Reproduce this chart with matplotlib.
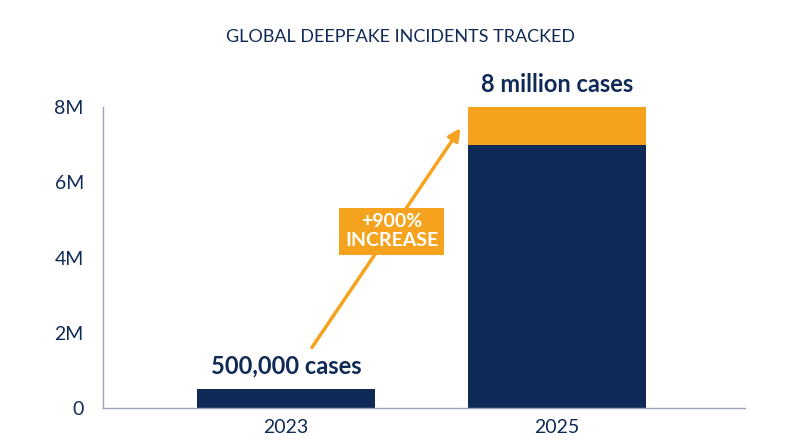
import matplotlib
matplotlib.use("Agg")
import matplotlib.pyplot as plt

years = ["2023", "2025"]
base_vals = [0.5e6, 7.0e6]
top_vals = [0.0, 1.0e6]
bar_labels = ["500,000 cases", "8 million cases"]
yticks = [0, 2e6, 4e6, 6e6, 8e6]
ytick_labels = ["0", "2M", "4M", "6M", "8M"]

navy = "#0f2a56"
orange = "#f5a31e"
plt.rcParams['font.family'] = ['Lato', 'DejaVu Sans']

fig = plt.figure(figsize=(8, 4.47), dpi=100)
ax = fig.add_axes([0.129, 0.0872, 0.802, 0.6734])
x = [0, 1]
ax.bar(x, base_vals, width=0.657, color=navy)
ax.bar(x, top_vals, width=0.657, bottom=base_vals, color=orange)
ax.set_xlim(-0.675, 1.694)
ax.set_ylim(0, 8e6)
ax.set_xticks(x)
ax.set_xticklabels(years)
ax.set_yticks(yticks)
ax.set_yticklabels(ytick_labels)
ax.tick_params(axis='both', length=0, labelsize=14, colors=navy, pad=8)
ax.tick_params(axis='y', pad=14)
for s in ['top', 'right']:
    ax.spines[s].set_visible(False)
for s in ['left', 'bottom']:
    ax.spines[s].set_color("#9aa3b5")
    ax.spines[s].set_linewidth(1)

totals = [b + t for b, t in zip(base_vals, top_vals)]
for xi, tot, lab in zip(x, totals, bar_labels):
    ax.text(xi, tot + 0.3e6, lab, ha='center', va='bottom', fontsize=17,
            fontweight='bold', color=navy)

ax.annotate("", xy=(0.65, 7.5e6), xytext=(0.09, 1.55e6),
            arrowprops=dict(arrowstyle='-|>', color=orange, lw=2.5,
                            mutation_scale=18))
ax.text(0.39, 4.7e6, "+900%\nINCREASE", ha='center', va='center', fontsize=14,
        fontweight='bold', color='white', linespacing=1.1,
        bbox=dict(boxstyle='square,pad=0.3', fc=orange, ec='none'))

fig.text(0.5, 0.917, "GLOBAL DEEPFAKE INCIDENTS TRACKED", ha='center',
         va='center', fontsize=13, color=navy)
fig.savefig("out.png", dpi=100)
